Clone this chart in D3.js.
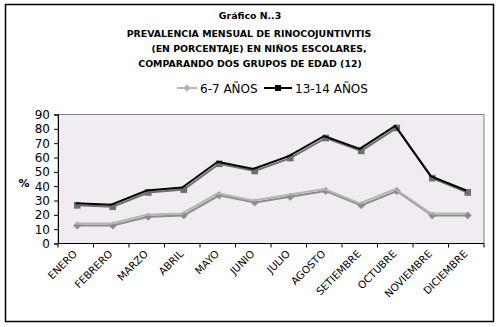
<!DOCTYPE html>
<html>
<head>
<meta charset="utf-8">
<script src="https://cdn.jsdelivr.net/npm/d3@7"></script>
<style>
  body { margin: 0; background: #fff; }
  text { font-family: "DejaVu Sans", Verdana, sans-serif; }
</style>
</head>
<body>
<script>
let months = ["ENERO", "FEBRERO", "MARZO", "ABRIL", "MAYO", "JUNIO", "JULIO",
    "AGOSTO", "SETIEMBRE", "OCTUBRE", "NOVIEMBRE", "DICIEMBRE"];
let young = [14, 14, 20, 21, 35, 30, 34, 38, 28, 38, 21, 21];   // 6-7 AÑOS
let older = [28, 27, 37, 39, 57, 52, 61, 75, 66, 82, 47, 37];   // 13-14 AÑOS
let yTicks = [0, 10, 20, 30, 40, 50, 60, 70, 80, 90];
let titleLines = ["Gráfico N..3", "PREVALENCIA MENSUAL DE RINOCOJUNTIVITIS",
    "(EN PORCENTAJE) EN NIÑOS ESCOLARES,", "COMPARANDO DOS GRUPOS DE EDAD (12)"];

let width = 501;
let height = 327;
let plot = { left: 58, right: 484, top: 114.5, bottom: 243.5 };

let svg = d3.select("body")
    .append("svg")
    .attr("width", width)
    .attr("height", height);

// outer frame
svg.append("rect")
    .attr("x", 5.5).attr("y", 4.5)
    .attr("width", 488).attr("height", 317)
    .attr("fill", "#fff")
    .attr("stroke", "#000")
    .attr("stroke-width", 1.5);

// titles
let titleX = [250, 249, 259, 250];
let titleY = [18.5, 36.5, 51.5, 66.5];
svg.selectAll("text.title")
    .data(titleLines)
    .enter()
    .append("text")
    .attr("class", "title")
    .attr("x", (d, i) => titleX[i])
    .attr("y", (d, i) => titleY[i])
    .attr("text-anchor", "middle")
    .attr("font-size", "9.4px")
    .attr("font-weight", "bold")
    .text((d) => d);

let xScale = d3.scaleBand()
    .domain(months)
    .range([plot.left, plot.right]);

let yScale = d3.scaleLinear()
    .domain([0, 90])
    .range([plot.bottom, plot.top]);

// plot background
svg.append("rect")
    .attr("x", plot.left).attr("y", plot.top)
    .attr("width", plot.right - plot.left)
    .attr("height", plot.bottom - plot.top)
    .attr("fill", "#F1ECF1")
    .attr("stroke", "#808080")
    .attr("stroke-width", 1);

// y axis
let yAxis = svg.append("g")
    .attr("transform", "translate(" + plot.left + ",0)")
    .call(d3.axisLeft(yScale).tickValues(yTicks).tickSize(4).tickPadding(4));
yAxis.select(".domain").attr("stroke", "#000");
yAxis.selectAll("text")
    .attr("font-size", "12px")
    .attr("fill", "#000")
    .style("font-family", "DejaVu Sans, Verdana, sans-serif");

svg.append("text")
    .attr("x", 24).attr("y", 187)
    .attr("text-anchor", "middle")
    .attr("font-size", "11px")
    .attr("font-weight", "bold")
    .text("%");

// x axis: ticks between categories
let xAxis = svg.append("g")
    .attr("transform", "translate(0," + plot.bottom + ")");
xAxis.append("line")
    .attr("x1", plot.left).attr("x2", plot.right)
    .attr("stroke", "#000");
let bounds = months.map((m) => xScale(m)).concat([plot.right]);
xAxis.selectAll("line.tick")
    .data(bounds)
    .enter()
    .append("line")
    .attr("class", "tick")
    .attr("x1", (d) => d).attr("x2", (d) => d)
    .attr("y1", 0).attr("y2", 4)
    .attr("stroke", "#000");
xAxis.selectAll("text")
    .data(months)
    .enter()
    .append("text")
    .attr("transform", (d) => "translate(" + (xScale(d) + xScale.bandwidth() / 2 + 2) + ",11) rotate(-45)")
    .attr("text-anchor", "end")
    .attr("font-size", "10.3px")
    .text((d) => d);

let cx = (i) => xScale(months[i]) + xScale.bandwidth() / 2;
let line = d3.line()
    .x((d, i) => cx(i))
    .y((d) => yScale(d));

function drawSeries(values, lineColor, markColor, shadowColor, shape) {
    let g = svg.append("g");
    // shadow
    let sh = g.append("g").attr("transform", "translate(1.5,2)");
    sh.append("path")
        .attr("d", line(values))
        .attr("fill", "none")
        .attr("stroke", shadowColor)
        .attr("stroke-width", 2);
    let symbol = d3.symbol().type(shape).size(shape === d3.symbolSquare ? 44 : 40);
    sh.selectAll("path.m")
        .data(values)
        .enter()
        .append("path")
        .attr("class", "m")
        .attr("d", symbol)
        .attr("transform", (d, i) => "translate(" + cx(i) + "," + yScale(d) + ")")
        .attr("fill", shadowColor);
    g.append("path")
        .attr("d", line(values))
        .attr("fill", "none")
        .attr("stroke", lineColor)
        .attr("stroke-width", 2);
    g.selectAll("path.m")
        .data(values)
        .enter()
        .append("path")
        .attr("class", "m")
        .attr("d", symbol)
        .attr("transform", (d, i) => "translate(" + cx(i) + "," + yScale(d) + ")")
        .attr("fill", markColor)
        .attr("stroke", markColor);
}

drawSeries(young, "#B4B4B4", "#A8A8A8", "#8C8C8C", d3.symbolDiamond2);
drawSeries(older, "#000", "#000", "#6E6E6E", d3.symbolSquare);

// legend
let legend = svg.append("g");
let legendItems = [
    { label: "6-7 AÑOS", x: 177, color: "#B4B4B4", shape: d3.symbolDiamond2, w: 20 },
    { label: "13-14 AÑOS", x: 264, color: "#000", shape: d3.symbolSquare, w: 28 }
];
legendItems.forEach((it) => {
    legend.append("line")
        .attr("x1", it.x).attr("x2", it.x + it.w)
        .attr("y1", 88).attr("y2", 88)
        .attr("stroke", it.color)
        .attr("stroke-width", 2);
    legend.append("path")
        .attr("d", d3.symbol().type(it.shape).size(36))
        .attr("transform", "translate(" + (it.x + it.w / 2) + ",88)")
        .attr("fill", it.color);
    legend.append("text")
        .attr("x", it.x + it.w + 3)
        .attr("y", 92.5)
        .attr("font-size", "12px")
        .text(it.label);
});
</script>
</body>
</html>
